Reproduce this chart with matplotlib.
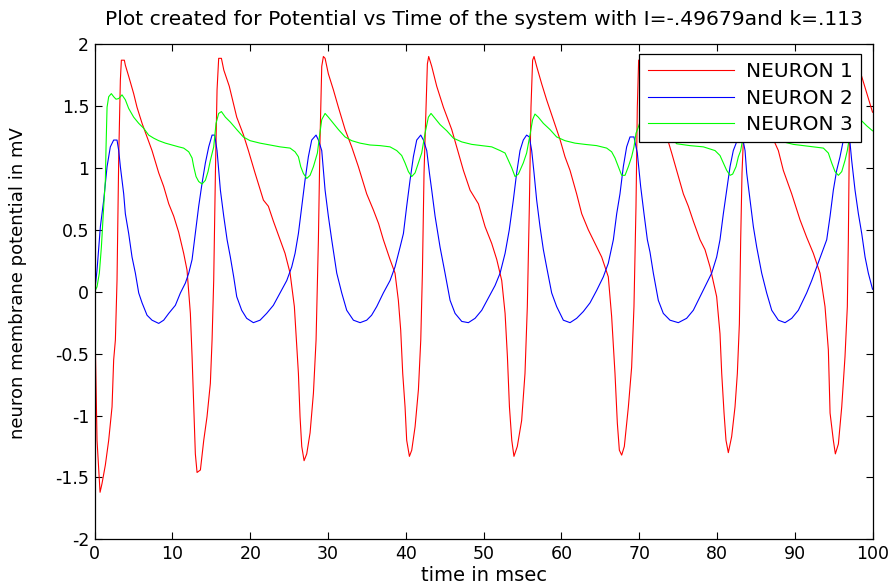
import numpy as np
import matplotlib
matplotlib.use('Agg')
import matplotlib.pyplot as plt

# values, time in msec / potential in mV
t1 = [0.0, 0.1, 0.3, 0.69, 0.94, 1.37, 1.80, 2.23, 2.44, 2.66, 2.87, 3.09, 3.30, 3.43, 3.81, 3.94,
      4.37, 5.01, 5.44, 6.09, 6.73, 7.37, 8.23, 8.87, 9.52, 10.16, 10.80, 11.44, 11.87, 12.30, 12.52,
      12.73, 12.94, 13.16, 13.59, 14.02, 14.44, 14.87, 15.09, 15.30, 15.52, 15.73, 15.94, 16.29, 16.6,
      17.3, 18.26, 19.11, 19.76, 20.61, 21.69, 22.33, 22.97, 23.83, 24.47, 25.12, 25.67, 26.19, 26.40,
      26.62, 26.92, 27.26, 27.69, 28.12, 28.46, 28.76, 28.97, 29.19, 29.40, 29.62, 30.04, 30.69, 31.33,
      32.19, 33.04, 33.90, 34.97, 35.83, 36.5, 37.11, 37.97, 38.61, 39.04, 39.34, 39.60, 39.90, 40.11,
      40.46, 40.76, 41.19, 41.62, 41.92, 42.13, 42.34, 42.60, 42.77, 42.94, 43.33, 43.97, 44.83, 45.90,
      46.76, 47.40, 48.26, 49.33, 50.19, 51.04, 51.69, 52.33, 52.76, 53.06, 53.32, 53.62, 53.90, 54.33,
      54.89, 55.32, 55.62, 55.88, 56.09, 56.30, 56.48, 56.82, 57.46, 58.10, 58.96, 59.82, 60.46, 61.11,
      61.96, 62.61, 63.46, 64.32, 65.18, 66.03, 66.46, 66.89, 67.19, 67.45, 67.75, 68.09, 68.61, 69.03,
      69.33, 69.59, 69.76, 69.93, 70.2, 71.0, 72.5, 73.75, 74.18, 74.82, 75.68, 76.32, 76.96, 77.82,
      78.46, 79.11, 79.96, 80.39, 80.61, 80.91, 81.16, 81.46, 81.89, 82.32, 82.62, 82.88, 83.05, 83.22,
      83.39, 83.6, 83.9, 84.5, 85.5, 86.5, 87.25, 87.89, 88.53, 89.61, 90.68, 91.53, 92.39, 93.25,
      93.89, 94.32, 94.54, 94.96, 95.22, 95.61, 96.04, 96.46, 96.76, 96.89, 97.02, 97.3, 97.6, 98.0,
      98.6, 99.9, 100.0]
v1 = [0.0, -0.5, -1.2, -1.62, -1.55, -1.40, -1.20, -0.93, -0.55, -0.39, 0.09, 1.09, 1.71, 1.87, 1.87, 1.83,
      1.74, 1.60, 1.49, 1.36, 1.25, 1.14, 0.96, 0.85, 0.71, 0.61, 0.48, 0.31, 0.175, -0.175, -0.525,
      -0.93, -1.31, -1.46, -1.44, -1.20, -1.01, -0.74, -0.39, 0.09, 0.96, 1.63, 1.885, 1.885, 1.79,
      1.66, 1.41, 1.27, 1.14, 0.96, 0.74, 0.69, 0.57, 0.42, 0.31, 0.15, -0.12, -0.66, -1.01,
      -1.25, -1.365, -1.31, -1.14, -0.82, -0.39, 0.42, 1.23, 1.82, 1.90, 1.885, 1.76, 1.63, 1.49,
      1.31, 1.17, 1.01, 0.79, 0.66, 0.55, 0.42, 0.26, 0.15, -0.07, -0.31, -0.66, -0.93, -1.20,
      -1.33, -1.28, -1.09, -0.79, -0.39, 0.15, 0.96, 1.49, 1.84, 1.90, 1.82, 1.66, 1.49, 1.31,
      1.12, 0.98, 0.82, 0.71, 0.525, 0.39, 0.26, 0.09, -0.175, -0.525, -0.93, -1.20, -1.33, -1.25,
      -1.04, -0.66, -0.12, 0.69, 1.49, 1.87, 1.90, 1.82, 1.68, 1.55, 1.39, 1.23, 1.09, 0.98,
      0.79, 0.63, 0.50, 0.39, 0.28, 0.12, -0.20, -0.66, -1.06, -1.28, -1.32, -1.25, -0.93, -0.61,
      -0.12, 0.69, 1.49, 1.87, 1.88, 1.72, 1.45, 1.21, 1.12, 0.98, 0.79, 0.69, 0.57, 0.42,
      0.34, 0.20, -0.04, -0.34, -0.66, -0.98, -1.20, -1.30, -1.17, -0.93, -0.66, -0.26, 0.42, 0.96,
      1.22, 1.80, 1.88, 1.76, 1.56, 1.36, 1.23, 1.14, 0.98, 0.79, 0.58, 0.44, 0.31, 0.15,
      -0.12, -0.47, -0.98, -1.20, -1.31, -1.23, -0.93, -0.525, -0.12, 0.42, 1.23, 1.85, 1.88, 1.82,
      1.74, 1.47, 1.45]

t2 = [0.0, 0.30, 0.73, 1.16, 1.59, 2.01, 2.44, 2.87, 3.09, 3.30, 3.51, 3.73, 3.94, 4.37, 4.80, 5.23,
      5.66, 6.09, 6.73, 7.37, 8.23, 8.87, 9.52, 10.37, 11.02, 11.66, 12.09, 12.52, 12.94, 13.37, 13.80,
      14.23, 14.66, 15.09, 15.43, 15.73, 16.16, 16.59, 17.02, 17.44, 17.87, 18.26, 18.90, 19.54, 20.40,
      21.26, 22.11, 22.97, 23.83, 24.69, 25.33, 25.76, 26.19, 26.62, 27.04, 27.47, 27.90, 28.46, 28.76,
      29.19, 29.62, 30.04, 30.47, 31.12, 31.76, 32.40, 33.26, 34.12, 34.97, 35.60, 36.26, 37.11, 37.97,
      38.61, 39.26, 39.69, 40.11, 40.54, 40.97, 41.40, 41.92, 42.26, 42.69, 43.03, 43.33, 43.76, 44.40,
      45.04, 45.69, 46.33, 47.19, 48.04, 48.90, 49.76, 50.62, 51.47, 52.12, 52.76, 53.30, 53.82, 54.25,
      54.68, 55.10, 55.53, 55.88, 56.18, 56.48, 56.82, 57.25, 57.68, 58.10, 58.75, 59.39, 60.25, 61.11,
      61.96, 62.82, 63.68, 64.53, 65.39, 66.03, 66.68, 67.11, 67.53, 67.96, 68.39, 68.82, 69.33, 69.76,
      70.19, 70.62, 71.05, 71.39, 71.82, 72.46, 73.10, 73.96, 75.03, 76.10, 76.96, 77.82, 78.68, 79.32,
      79.96, 80.39, 80.82, 81.25, 81.68, 82.10, 82.53, 82.9, 83.3, 83.61, 83.82, 84.25, 84.68, 85.11,
      85.75, 86.39, 87.04, 87.89, 88.75, 89.61, 90.46, 91.53, 92.18, 92.82, 93.46, 94.11, 94.54, 94.96,
      95.39, 95.82, 96.25, 96.6, 96.95, 97.11, 97.32, 97.75, 98.18, 98.61, 99.04, 99.46, 100.0]
v2 = [0.0, 0.175, 0.525, 0.74, 1.01, 1.17, 1.225, 1.225, 1.14, 1.01, 0.90, 0.79, 0.63, 0.47, 0.28, 0.15,
      -0.01, -0.09, -0.19, -0.23, -0.256, -0.23, -0.175, -0.11, -0.01, 0.07, 0.15, 0.26, 0.47, 0.69, 0.875,
      1.04, 1.17, 1.265, 1.265, 1.14, 0.82, 0.61, 0.42, 0.28, 0.12, -0.04, -0.15, -0.215, -0.25,
      -0.23, -0.175, -0.11, -0.01, 0.09, 0.20, 0.31, 0.47, 0.69, 0.90, 1.09, 1.225, 1.265, 1.225,
      1.14, 0.82, 0.61, 0.42, 0.15, -0.01, -0.15, -0.23, -0.25, -0.23, -0.19, -0.12, -0.01, 0.09,
      0.20, 0.36, 0.47, 0.69, 0.90, 1.09, 1.225, 1.265, 1.225, 1.14, 0.96, 0.82, 0.61, 0.36,
      0.15, -0.07, -0.175, -0.24, -0.25, -0.215, -0.15, -0.05, 0.05, 0.15, 0.31, 0.50, 0.74, 0.96,
      1.14, 1.225, 1.265, 1.25, 1.14, 0.96, 0.74, 0.525, 0.34, 0.20, -0.01, -0.12, -0.23, -0.25,
      -0.215, -0.16, -0.09, 0.01, 0.12, 0.23, 0.42, 0.63, 0.79, 1.01, 1.17, 1.25, 1.25, 1.12,
      0.85, 0.63, 0.42, 0.32, 0.15, -0.07, -0.175, -0.23, -0.25, -0.215, -0.15, -0.04, 0.07, 0.15,
      0.28, 0.42, 0.63, 0.82, 1.01, 1.14, 1.21, 1.265, 1.24, 1.14, 0.96, 0.74, 0.525, 0.36,
      0.15, -0.01, -0.15, -0.23, -0.25, -0.215, -0.15, -0.01, 0.09, 0.20, 0.31, 0.42, 0.61, 0.82,
      0.98, 1.09, 1.225, 1.265, 1.24, 1.20, 1.06, 0.82, 0.63, 0.47, 0.28, 0.15, 0.02]

t3 = [0.0, 0.30, 0.60, 0.86, 1.16, 1.37, 1.46, 1.59, 1.80, 2.14, 2.44, 2.74, 3.09, 3.51, 3.94, 4.37,
      5.01, 5.66, 6.30, 6.94, 7.59, 8.23, 9.09, 9.94, 10.80, 11.44, 12.09, 12.52, 12.73, 13.03, 13.37,
      13.80, 14.23, 14.57, 14.87, 15.30, 15.60, 15.94, 16.29, 16.80, 17.44, 18.26, 19.11, 19.97, 21.26,
      22.54, 23.83, 25.12, 25.76, 26.19, 26.49, 26.83, 27.26, 27.69, 28.12, 28.63, 28.89, 29.19, 29.62,
      30.04, 30.69, 31.33, 32.19, 33.04, 34.12, 35.40, 36.69, 37.97, 38.83, 39.47, 39.90, 40.33, 40.76,
      41.19, 41.62, 42.04, 42.47, 42.90, 43.24, 43.76, 44.40, 45.26, 46.12, 47.19, 48.47, 49.76, 51.04,
      52.12, 52.76, 53.19, 53.62, 54.04, 54.47, 55.10, 55.53, 55.96, 56.30, 56.60, 57.03, 57.68, 58.53,
      59.39, 60.46, 61.75, 63.03, 64.53, 65.82, 66.46, 66.89, 67.32, 67.75, 68.18, 68.61, 69.03, 69.33,
      69.59, 69.89, 70.4, 70.8, 71.5, 72.5, 73.5, 74.3, 74.82, 76.53, 78.25, 79.75, 80.39, 80.82,
      81.25, 81.68, 82.02, 82.45, 82.75, 83.05, 83.5, 84.0, 84.4, 85.2, 86.2, 87.2, 88.0, 88.53,
      89.82, 91.11, 92.39, 93.68, 94.32, 94.75, 95.18, 95.61, 96.04, 96.46, 96.76, 96.94, 97.3, 97.7,
      98.61, 99.25, 100.0]
v3 = [0.0, 0.04, 0.15, 0.36, 0.69, 0.90, 1.17, 1.49, 1.575, 1.60, 1.575, 1.555, 1.56, 1.59, 1.55, 1.48,
      1.41, 1.36, 1.32, 1.265, 1.24, 1.22, 1.20, 1.185, 1.17, 1.16, 1.13, 1.08, 1.01, 0.93, 0.89,
      0.87, 0.90, 0.97, 1.06, 1.17, 1.36, 1.44, 1.455, 1.41, 1.37, 1.31, 1.25, 1.22, 1.20,
      1.185, 1.17, 1.16, 1.13, 1.09, 1.01, 0.955, 0.915, 0.94, 1.01, 1.12, 1.25, 1.39, 1.44,
      1.41, 1.36, 1.31, 1.25, 1.22, 1.20, 1.185, 1.18, 1.17, 1.14, 1.10, 1.04, 0.97, 0.93,
      0.96, 1.04, 1.12, 1.28, 1.41, 1.44, 1.40, 1.35, 1.30, 1.24, 1.21, 1.19, 1.18, 1.17,
      1.14, 1.12, 1.06, 1.00, 0.93, 0.95, 1.04, 1.12, 1.265, 1.39, 1.435, 1.41, 1.36, 1.31,
      1.25, 1.22, 1.20, 1.19, 1.18, 1.16, 1.13, 1.08, 1.01, 0.94, 0.94, 1.01, 1.09, 1.17,
      1.28, 1.33, 1.43, 1.44, 1.40, 1.35, 1.28, 1.23, 1.195, 1.18, 1.17, 1.14, 1.10, 1.04,
      0.98, 0.94, 0.95, 1.01, 1.09, 1.14, 1.30, 1.41, 1.44, 1.40, 1.34, 1.28, 1.23, 1.21,
      1.19, 1.18, 1.17, 1.16, 1.12, 1.04, 0.97, 0.94, 0.97, 1.06, 1.14, 1.21, 1.38, 1.44,
      1.38, 1.34, 1.30]

xticks = [0, 10, 20, 30, 40, 50, 60, 70, 80, 90, 100]
yticks = [-2, -1.5, -1, -0.5, 0, 0.5, 1, 1.5, 2]
ytick_labels = ['-2', '-1.5', '-1', '-0.5', '0', '0.5', '1', '1.5', '2']
names = ['NEURON 1', 'NEURON 2', 'NEURON 3']

plt.rcParams['font.family'] = ['DejaVu Sans']

fig = plt.figure(figsize=(8.95, 5.88), dpi=100)
ax = fig.add_axes([0.1058, 0.0828, 0.8691, 0.8422])

ax.plot(t1, v1, color='#ff0000', lw=0.8, label=names[0])
ax.plot(t2, v2, color='#0000ff', lw=0.8, label=names[1])
ax.plot(t3, v3, color='#00ff00', lw=0.8, label=names[2])

ax.set_xlim(0, 100)
ax.set_ylim(-2, 2)
ax.set_xticks(xticks)
ax.set_yticks(yticks)
ax.set_yticklabels(ytick_labels)
ax.tick_params(direction='in', length=5, width=0.8, top=True, right=True, labelsize=12.5, pad=4)
for s in ax.spines.values():
    s.set_linewidth(0.9)

ax.set_title('Plot created for Potential vs Time of the system with I=-.49679and k=.113',
             fontsize=14.6, pad=14)
ax.set_xlabel('time in msec', fontsize=14, labelpad=2)
ax.set_ylabel('neuron membrane potential in mV', fontsize=13)
ax.yaxis.set_label_coords(-0.087, 0.517)

leg = ax.legend(loc='upper right', bbox_to_anchor=(0.985, 0.98), borderaxespad=0,
                fontsize=14.5, fancybox=False, framealpha=1, edgecolor='black',
                handlelength=4.3, handletextpad=0.55, labelspacing=0.36, borderpad=0.42)
leg.get_frame().set_linewidth(0.9)

fig.savefig('out.png', dpi=100)
